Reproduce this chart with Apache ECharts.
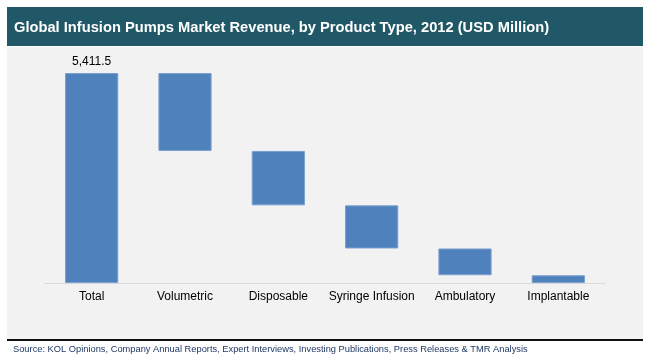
<!DOCTYPE html>
<html><head><meta charset="utf-8">
<script src="https://cdn.jsdelivr.net/npm/echarts@6/dist/echarts.min.js"></script>
<style>html,body{margin:0;padding:0;background:#fff}#c{width:650px;height:361px}</style>
</head><body><div id="c"></div>
<script>
const categories = ['Total', 'Volumetric', 'Disposable', 'Syringe Infusion', 'Ambulatory', 'Implantable'];
const total = 5411.5;
const segments = [2008, 1403, 1111, 690, 199.5];
const totalLabel = '5,411.5';

// build waterfall base + visible values
const baseVals = [0];
const barVals = [total];
let remaining = total;
segments.forEach(v => { remaining -= v; baseVals.push(remaining); barVals.push(v); });

const chart = echarts.init(document.getElementById('c'));
const FONT = 'Liberation Sans, Arial, sans-serif';
chart.setOption({
  animation: false,
  backgroundColor: '#fff',
  graphic: [
    { type: 'rect', shape: { x: 7, y: 47, width: 636, height: 292 }, style: { fill: '#f2f2f2' }, z: -10 },
    { type: 'rect', shape: { x: 7, y: 7, width: 636, height: 39 }, style: { fill: '#215867' }, z: -10 },
    { type: 'rect', shape: { x: 7, y: 339, width: 636, height: 2 }, style: { fill: '#111' }, z: -10 },
    { type: 'text', left: 14, top: 20, style: { text: 'Global Infusion Pumps Market Revenue, by Product Type, 2012 (USD Million)', fill: '#fff', font: 'bold 14.7px ' + FONT } },
    { type: 'text', left: 13, top: 345, style: { text: 'Source: KOL Opinions, Company Annual Reports, Expert Interviews, Investing Publications, Press Releases & TMR Analysis', fill: '#1f3864', font: '9.3px ' + FONT } }
  ],
  grid: { left: 45, right: 45, top: 73, bottom: 78 },
  xAxis: {
    type: 'category', data: categories,
    axisLine: { lineStyle: { color: '#d9d9d9' } },
    axisTick: { show: false },
    axisLabel: { color: '#000', fontSize: 12, fontFamily: FONT, margin: 8, interval: 0 }
  },
  yAxis: { type: 'value', min: 0, max: total, show: false, splitLine: { show: false } },
  series: [
    { type: 'bar', stack: 'w', data: baseVals, itemStyle: { color: 'transparent' }, barCategoryGap: '43%', silent: true },
    { type: 'bar', stack: 'w', data: barVals, barCategoryGap: '43%',
      itemStyle: { color: '#4f81bd', borderColor: '#7ba0cf', borderWidth: 1 },
      label: { show: true, position: 'top', color: '#000', fontSize: 12, fontFamily: FONT,
        formatter: p => p.dataIndex === 0 ? totalLabel : '' } }
  ]
});
</script></body></html>
